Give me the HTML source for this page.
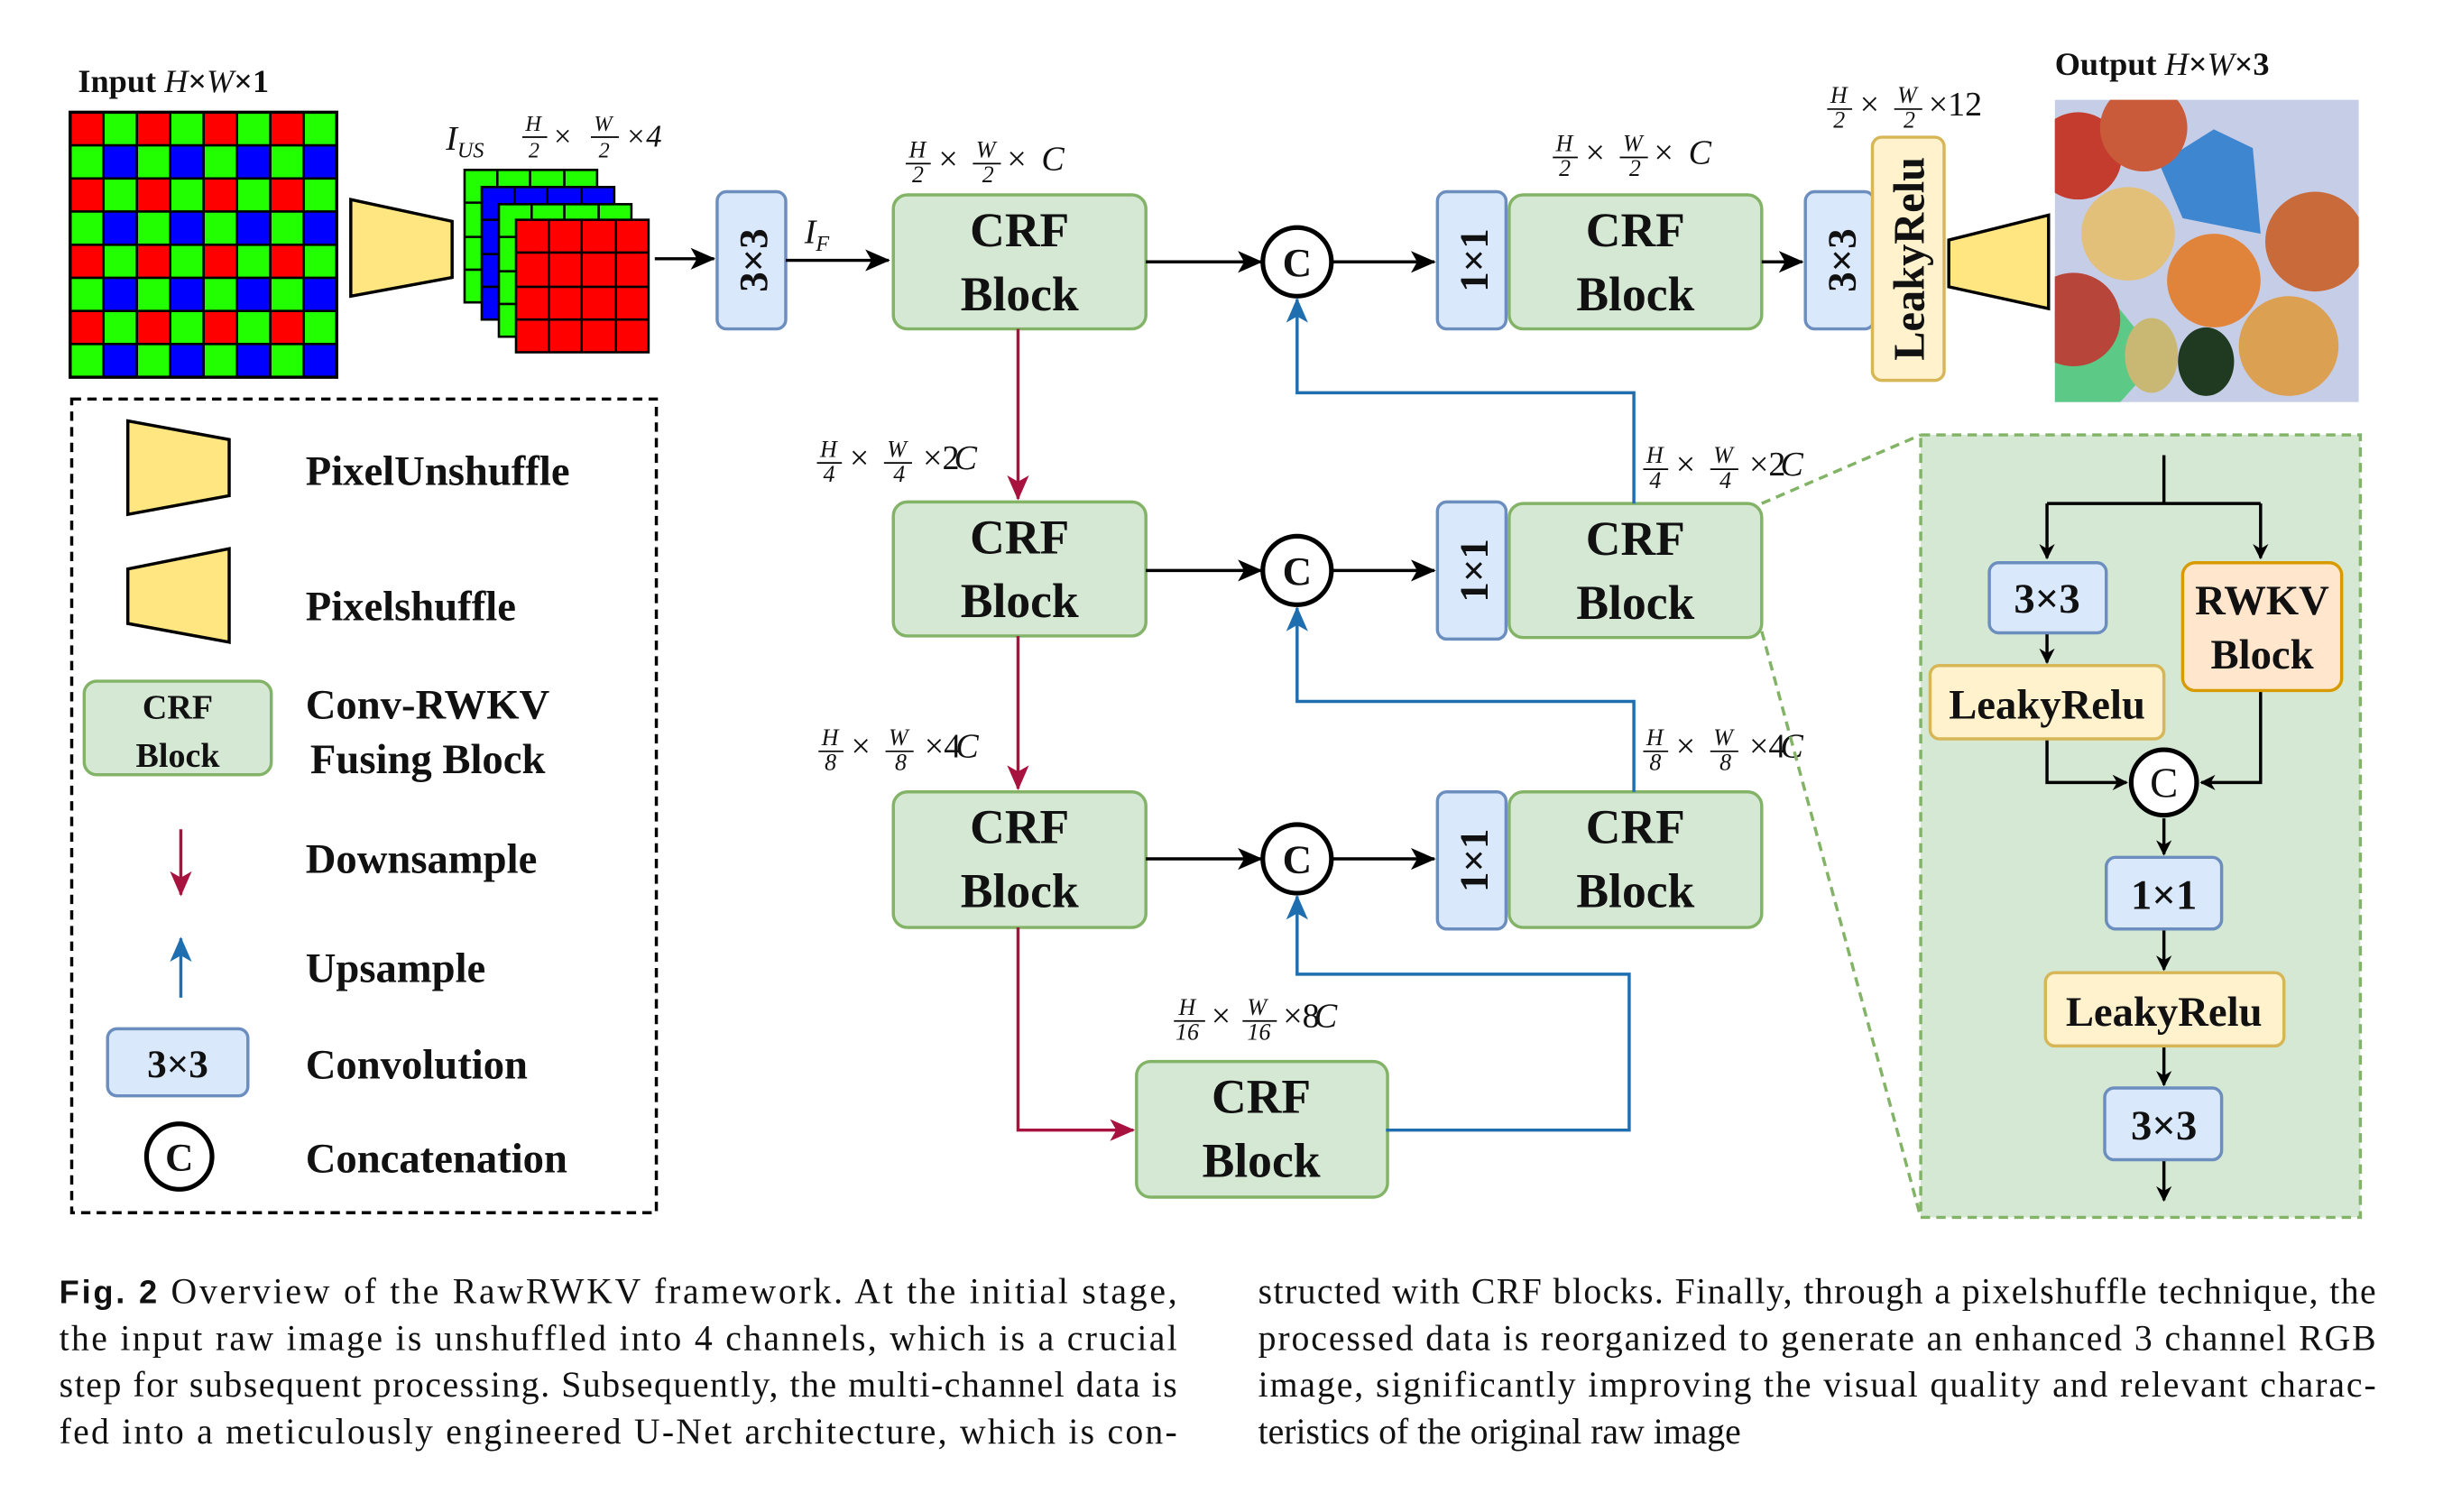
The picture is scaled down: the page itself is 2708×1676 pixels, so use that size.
<!DOCTYPE html>
<html><head><meta charset="utf-8"><style>
html,body{margin:0;padding:0;background:#fff;}
svg{display:block;}
.t{font-family:"Liberation Serif",serif;font-weight:bold;fill:#111;}
.m{font-family:"Liberation Serif",serif;font-style:italic;fill:#111;}
.cap{font-family:"Liberation Serif",serif;font-size:23px;fill:#111;}
</style></head><body>
<svg width="2708" height="1676" viewBox="0 0 1567 970" preserveAspectRatio="none" xmlns="http://www.w3.org/2000/svg">
<defs>
<marker id="ak" markerWidth="10" markerHeight="10" refX="9" refY="5" orient="auto" markerUnits="userSpaceOnUse"><path d="M0,0 L10,5 L0,10 L3,5z" fill="#000"/></marker>
<marker id="ar" markerWidth="16" markerHeight="14" refX="15" refY="7" orient="auto" markerUnits="userSpaceOnUse"><path d="M0,0 L16,7 L0,14 L4,7z" fill="#a8123e"/></marker>
<marker id="ab" markerWidth="16" markerHeight="14" refX="15" refY="7" orient="auto" markerUnits="userSpaceOnUse"><path d="M0,0 L16,7 L0,14 L4,7z" fill="#1f6fb0"/></marker>
<marker id="aK" markerWidth="16" markerHeight="14" refX="15" refY="7" orient="auto" markerUnits="userSpaceOnUse"><path d="M0,0 L16,7 L0,14 L4,7z" fill="#000"/></marker>
<clipPath id="pc"><rect x="1318" y="64" width="195" height="194"/></clipPath>
</defs>
<rect width="1567" height="970" fill="#fff"/>

<!-- Bayer -->
<rect x="45" y="72" width="171" height="170" fill="#22ff00"/>
<g fill="#f00">
<rect x="45" y="72" width="21.4" height="21.2"/><rect x="87.8" y="72" width="21.4" height="21.2"/><rect x="130.6" y="72" width="21.4" height="21.2"/><rect x="173.4" y="72" width="21.4" height="21.2"/>
<rect x="45" y="114.5" width="21.4" height="21.2"/><rect x="87.8" y="114.5" width="21.4" height="21.2"/><rect x="130.6" y="114.5" width="21.4" height="21.2"/><rect x="173.4" y="114.5" width="21.4" height="21.2"/>
<rect x="45" y="157" width="21.4" height="21.2"/><rect x="87.8" y="157" width="21.4" height="21.2"/><rect x="130.6" y="157" width="21.4" height="21.2"/><rect x="173.4" y="157" width="21.4" height="21.2"/>
<rect x="45" y="199.5" width="21.4" height="21.2"/><rect x="87.8" y="199.5" width="21.4" height="21.2"/><rect x="130.6" y="199.5" width="21.4" height="21.2"/><rect x="173.4" y="199.5" width="21.4" height="21.2"/>
</g>
<g fill="#00f">
<rect x="66.4" y="93.2" width="21.4" height="21.2"/><rect x="109.2" y="93.2" width="21.4" height="21.2"/><rect x="152" y="93.2" width="21.4" height="21.2"/><rect x="194.8" y="93.2" width="21.4" height="21.2"/>
<rect x="66.4" y="135.7" width="21.4" height="21.2"/><rect x="109.2" y="135.7" width="21.4" height="21.2"/><rect x="152" y="135.7" width="21.4" height="21.2"/><rect x="194.8" y="135.7" width="21.4" height="21.2"/>
<rect x="66.4" y="178.2" width="21.4" height="21.2"/><rect x="109.2" y="178.2" width="21.4" height="21.2"/><rect x="152" y="178.2" width="21.4" height="21.2"/><rect x="194.8" y="178.2" width="21.4" height="21.2"/>
<rect x="66.4" y="220.7" width="21.4" height="21.2"/><rect x="109.2" y="220.7" width="21.4" height="21.2"/><rect x="152" y="220.7" width="21.4" height="21.2"/><rect x="194.8" y="220.7" width="21.4" height="21.2"/>
</g>
<g stroke="#000" stroke-width="1.5" fill="none">
<path d="M66.4,72V242M87.8,72V242M109.2,72V242M130.6,72V242M152,72V242M173.4,72V242M194.8,72V242M45,93.2H216M45,114.5H216M45,135.7H216M45,157H216M45,178.2H216M45,199.5H216M45,220.7H216"/>
<rect x="45" y="72" width="171" height="170" stroke-width="2"/>
</g>
<text class="t" x="50" y="59" font-size="21">Input <tspan class="m" font-weight="normal">H</tspan>×<tspan class="m" font-weight="normal">W</tspan>×1</text>

<!-- stacked -->
<g stroke="#000" stroke-width="1.5">
<rect x="298" y="109" width="85" height="85" fill="#22ff00"/>
<path d="M319,109V194M340,109V194M362,109V194M298,130H383M298,152H383M298,173H383" fill="none"/>
<rect x="309" y="120" width="85" height="85" fill="#00f"/>
<path d="M330,120V205M351,120V205M373,120V205M309,141H394M309,163H394M309,184H394" fill="none"/>
<rect x="320" y="131" width="85" height="85" fill="#22ff00"/>
<path d="M341,131V216M362,131V216M384,131V216M320,152H405M320,174H405M320,195H405" fill="none"/>
<rect x="331" y="141" width="85" height="85" fill="#f00"/>
<path d="M352,141V226M373,141V226M395,141V226M331,162H416M331,184H416M331,205H416" fill="none"/>
</g>
<text class="m" x="286" y="96" font-size="22">I<tspan font-size="14" dy="5">US</tspan></text>
<g class="m" font-size="14"><text x="337" y="84">H</text><text x="339" y="101">2</text><text x="381" y="84">W</text><text x="384" y="101">2</text></g>
<path d="M335,88H351M379,88H397" stroke="#000"/>
<text class="m" x="354" y="94" font-size="20" font-style="normal">×</text><text x="401" y="94" font-size="20" class="m" font-style="normal">×4</text>

<path d="M225,128L290,142L290,178L225,190Z" fill="#ffe680" stroke="#000" stroke-width="2"/>
<line x1="420" y1="166" x2="458" y2="166" stroke="#000" stroke-width="2" marker-end="url(#aK)"/>

<g stroke="#6c8ebf" stroke-width="2" fill="#dae8fc">
<rect x="460" y="123" width="44" height="88" rx="6"/>
<rect x="922" y="123" width="44" height="88" rx="6"/>
<rect x="1158" y="123" width="44" height="88" rx="6"/>
<rect x="922" y="322" width="44" height="88" rx="6"/>
<rect x="922" y="508" width="44" height="88" rx="6"/>
</g>
<g class="t" font-size="26">
<text transform="translate(492,167) rotate(-90)" text-anchor="middle">3×3</text>
<text transform="translate(954,167) rotate(-90)" text-anchor="middle">1×1</text>
<text transform="translate(1190,167) rotate(-90)" text-anchor="middle">3×3</text>
<text transform="translate(954,366) rotate(-90)" text-anchor="middle">1×1</text>
<text transform="translate(954,552) rotate(-90)" text-anchor="middle">1×1</text>
</g>
<rect x="1201" y="88" width="46" height="156" rx="6" fill="#fff2cc" stroke="#d6b656" stroke-width="2"/>
<text class="t" font-size="28" transform="translate(1234,166) rotate(-90)" text-anchor="middle">LeakyRelu</text>
<path d="M1250,154L1314,138L1314,198L1250,184Z" fill="#ffe680" stroke="#000" stroke-width="2"/>
<!-- photo -->
<g clip-path="url(#pc)">
<rect x="1318" y="64" width="195" height="194" fill="#c6cde6"/>
<path d="M1318,200L1345,180L1385,230L1360,258L1318,258Z" fill="#5cc987"/>
<path d="M1385,105L1420,83L1445,95L1450,150L1400,140Z" fill="#3f86d0"/>
<circle cx="1333" cy="100" r="28" fill="#c43c2e"/>
<circle cx="1375" cy="82" r="28" fill="#c95a3a"/>
<circle cx="1365" cy="150" r="30" fill="#e2c07a"/>
<circle cx="1330" cy="205" r="30" fill="#b7453a"/>
<circle cx="1420" cy="180" r="30" fill="#e0843c"/>
<circle cx="1485" cy="155" r="32" fill="#c86a3a"/>
<circle cx="1468" cy="222" r="32" fill="#dca052"/>
<ellipse cx="1380" cy="228" rx="17" ry="24" fill="#c9b774"/>
<ellipse cx="1415" cy="232" rx="18" ry="22" fill="#1f3a20"/>
</g>
<text class="t" x="1318" y="48" font-size="21">Output <tspan class="m" font-weight="normal">H</tspan>×<tspan class="m" font-weight="normal">W</tspan>×3</text>

<g fill="#d5e8d4" stroke="#82b366" stroke-width="2">
<rect x="573" y="125" width="162" height="86" rx="9"/>
<rect x="968" y="125" width="162" height="86" rx="9"/>
<rect x="573" y="322" width="162" height="86" rx="9"/>
<rect x="968" y="323" width="162" height="86" rx="9"/>
<rect x="573" y="508" width="162" height="87" rx="9"/>
<rect x="968" y="508" width="162" height="87" rx="9"/>
<rect x="729" y="681" width="161" height="87" rx="9"/>
</g>
<g class="t" font-size="31" text-anchor="middle">
<text x="654" y="158">CRF</text><text x="654" y="199">Block</text>
<text x="1049" y="158">CRF</text><text x="1049" y="199">Block</text>
<text x="654" y="355">CRF</text><text x="654" y="396">Block</text>
<text x="1049" y="356">CRF</text><text x="1049" y="397">Block</text>
<text x="654" y="541">CRF</text><text x="654" y="582">Block</text>
<text x="1049" y="541">CRF</text><text x="1049" y="582">Block</text>
<text x="809" y="714">CRF</text><text x="809" y="755">Block</text>
</g>

<g fill="#fff" stroke="#000" stroke-width="3">
<circle cx="832" cy="168" r="22"/><circle cx="832" cy="366" r="22"/><circle cx="832" cy="551" r="22"/>
</g>
<g class="t" font-size="26" text-anchor="middle" font-weight="normal"><text x="832" y="177">C</text><text x="832" y="375">C</text><text x="832" y="560">C</text></g>

<g stroke="#000" stroke-width="2" marker-end="url(#aK)">
<line x1="504" y1="167" x2="570" y2="167"/>
<line x1="735" y1="168" x2="809" y2="168"/>
<line x1="855" y1="168" x2="920" y2="168"/>
<line x1="1130" y1="168" x2="1156" y2="168"/>
<line x1="735" y1="366" x2="809" y2="366"/>
<line x1="855" y1="366" x2="920" y2="366"/>
<line x1="735" y1="551" x2="809" y2="551"/>
<line x1="855" y1="551" x2="920" y2="551"/>
</g>
<text class="m" x="516" y="156" font-size="22">I<tspan font-size="14" dy="5">F</tspan></text>

<g stroke="#a8123e" stroke-width="2" fill="none" marker-end="url(#ar)">
<line x1="653" y1="211" x2="653" y2="320"/>
<line x1="653" y1="408" x2="653" y2="506"/>
<path d="M653,595V725H727"/>
</g>
<g stroke="#1f6fb0" stroke-width="2" fill="none" marker-end="url(#ab)">
<path d="M1048,323V252H832V192"/>
<path d="M1048,508V450H832V390"/>
<path d="M889,725H1045V625H832V575"/>
</g>

<g class="m" font-size="15">
<text x="583" y="101">H</text><text x="585" y="117">2</text><text x="626" y="101">W</text><text x="630" y="117">2</text>
<text x="998" y="97">H</text><text x="1000" y="113">2</text><text x="1041" y="97">W</text><text x="1045" y="113">2</text>
<text x="1174" y="66">H</text><text x="1176" y="82">2</text><text x="1217" y="66">W</text><text x="1221" y="82">2</text>
<text x="526" y="293">H</text><text x="528" y="309">4</text><text x="569" y="293">W</text><text x="573" y="309">4</text>
<text x="1056" y="297">H</text><text x="1058" y="313">4</text><text x="1099" y="297">W</text><text x="1103" y="313">4</text>
<text x="527" y="478">H</text><text x="529" y="494">8</text><text x="570" y="478">W</text><text x="574" y="494">8</text>
<text x="1056" y="478">H</text><text x="1058" y="494">8</text><text x="1099" y="478">W</text><text x="1103" y="494">8</text>
<text x="756" y="651">H</text><text x="754" y="667">16</text><text x="800" y="651">W</text><text x="800" y="667">16</text>
</g>
<g stroke="#000" stroke-width="1">
<path d="M581,105H597M624,105H642M996,101H1012M1039,101H1057M1172,70H1188M1215,70H1233M524,297H540M567,297H585M1054,301H1070M1097,301H1115M525,482H541M568,482H586M1054,482H1070M1097,482H1115M753,655H773M797,655H819"/>
</g>
<g class="m" font-size="22">
<text x="602" y="109" font-style="normal">×</text><text x="646" y="109" font-style="normal">×</text><text x="668" y="109">C</text>
<text x="1017" y="105" font-style="normal">×</text><text x="1061" y="105" font-style="normal">×</text><text x="1083" y="105">C</text>
<text x="1193" y="74" font-style="normal">×</text><text x="1237" y="74" font-style="normal">×12</text>
<text x="545" y="301" font-style="normal">×</text><text x="592" y="301" font-style="normal">×2</text><text x="612" y="301">C</text>
<text x="1075" y="305" font-style="normal">×</text><text x="1122" y="305" font-style="normal">×2</text><text x="1142" y="305">C</text>
<text x="546" y="486" font-style="normal">×</text><text x="593" y="486" font-style="normal">×4</text><text x="613" y="486">C</text>
<text x="1075" y="486" font-style="normal">×</text><text x="1122" y="486" font-style="normal">×4</text><text x="1142" y="486">C</text>
<text x="777" y="659" font-style="normal">×</text><text x="823" y="659" font-style="normal">×8</text><text x="843" y="659">C</text>
</g>

<!-- legend -->
<rect x="46" y="256" width="375" height="522" fill="none" stroke="#000" stroke-width="2" stroke-dasharray="6,4"/>
<path d="M82,270L147,282L147,318L82,330Z" fill="#ffe680" stroke="#000" stroke-width="2"/>
<path d="M82,365L147,352L147,412L82,400Z" fill="#ffe680" stroke="#000" stroke-width="2"/>
<rect x="54" y="437" width="120" height="60" rx="8" fill="#d5e8d4" stroke="#82b366" stroke-width="2"/>
<text class="t" x="114" y="461" font-size="22" text-anchor="middle">CRF</text>
<text class="t" x="114" y="492" font-size="22" text-anchor="middle">Block</text>
<line x1="116" y1="532" x2="116" y2="574" stroke="#a8123e" stroke-width="2" marker-end="url(#ar)"/>
<line x1="116" y1="640" x2="116" y2="602" stroke="#1f6fb0" stroke-width="2" marker-end="url(#ab)"/>
<rect x="69" y="660" width="90" height="43" rx="6" fill="#dae8fc" stroke="#6c8ebf" stroke-width="2"/>
<text class="t" x="114" y="691" font-size="25" text-anchor="middle">3×3</text>
<circle cx="115" cy="742" r="21" fill="#fff" stroke="#000" stroke-width="3"/>
<text class="t" x="115" y="751" font-size="25" font-weight="normal" text-anchor="middle">C</text>
<g class="t" font-size="27">
<text x="196" y="311">PixelUnshuffle</text>
<text x="196" y="398">Pixelshuffle</text>
<text x="196" y="461">Conv-RWKV</text>
<text x="199" y="496">Fusing Block</text>
<text x="196" y="560">Downsample</text>
<text x="196" y="630">Upsample</text>
<text x="196" y="692">Convolution</text>
<text x="196" y="752">Concatenation</text>
</g>

<!-- right panel -->
<line x1="1130" y1="323" x2="1232" y2="279" stroke="#82b366" stroke-width="2" stroke-dasharray="6,4"/>
<line x1="1130" y1="405" x2="1232" y2="781" stroke="#82b366" stroke-width="2" stroke-dasharray="6,4"/>
<rect x="1232" y="279" width="282" height="502" fill="#d5e8d4" stroke="#82b366" stroke-width="2" stroke-dasharray="6,4"/>
<g stroke="#000" stroke-width="2" fill="none">
<path d="M1388,292V323"/>
<path d="M1313,323H1450"/>
<path d="M1313,323V358" marker-end="url(#ak)"/>
<path d="M1450,323V358" marker-end="url(#ak)"/>
<path d="M1313,406V425" marker-end="url(#ak)"/>
<path d="M1313,474V502H1364" marker-end="url(#ak)"/>
<path d="M1450,443V502H1412" marker-end="url(#ak)"/>
<path d="M1388,525V548" marker-end="url(#ak)"/>
<path d="M1388,596V622" marker-end="url(#ak)"/>
<path d="M1388,671V696" marker-end="url(#ak)"/>
<path d="M1388,744V770" marker-end="url(#ak)"/>
</g>
<rect x="1276" y="361" width="75" height="45" rx="6" fill="#dae8fc" stroke="#6c8ebf" stroke-width="2"/>
<rect x="1400" y="361" width="102" height="82" rx="8" fill="#ffe6cc" stroke="#d79b00" stroke-width="2"/>
<rect x="1238" y="427" width="150" height="47" rx="6" fill="#fff2cc" stroke="#d6b656" stroke-width="2"/>
<circle cx="1388" cy="502" r="21" fill="#fff" stroke="#000" stroke-width="3"/>
<rect x="1351" y="550" width="74" height="46" rx="6" fill="#dae8fc" stroke="#6c8ebf" stroke-width="2"/>
<rect x="1312" y="624" width="153" height="47" rx="6" fill="#fff2cc" stroke="#d6b656" stroke-width="2"/>
<rect x="1350" y="698" width="75" height="46" rx="6" fill="#dae8fc" stroke="#6c8ebf" stroke-width="2"/>
<g class="t" font-size="27" text-anchor="middle">
<text x="1313" y="393">3×3</text>
<text x="1451" y="394">RWKV</text>
<text x="1451" y="429">Block</text>
<text x="1313" y="461">LeakyRelu</text>
<text x="1388" y="511" font-weight="normal">C</text>
<text x="1388" y="583">1×1</text>
<text x="1388" y="658">LeakyRelu</text>
<text x="1388" y="731">3×3</text>
</g>

<!-- caption -->
<g class="cap">
<text x="38" y="836" textLength="717" lengthAdjust="spacing"><tspan font-family="Liberation Sans,sans-serif" font-weight="bold" font-size="21">Fig. 2</tspan>   Overview of the RawRWKV framework. At the initial stage,</text>
<text x="38" y="866" textLength="717" lengthAdjust="spacing">the input raw image is unshuffled into 4 channels, which is a crucial</text>
<text x="38" y="896" textLength="717" lengthAdjust="spacing">step for subsequent processing. Subsequently, the multi-channel data is</text>
<text x="38" y="926" textLength="717" lengthAdjust="spacing">fed into a meticulously engineered U-Net architecture, which is con-</text>
<text x="807" y="836" textLength="717" lengthAdjust="spacing">structed with CRF blocks. Finally, through a pixelshuffle technique, the</text>
<text x="807" y="866" textLength="717" lengthAdjust="spacing">processed data is reorganized to generate an enhanced 3 channel RGB</text>
<text x="807" y="896" textLength="717" lengthAdjust="spacing">image, significantly improving the visual quality and relevant charac-</text>
<text x="807" y="926">teristics of the original raw image</text>
</g>
</svg>
</body></html>
